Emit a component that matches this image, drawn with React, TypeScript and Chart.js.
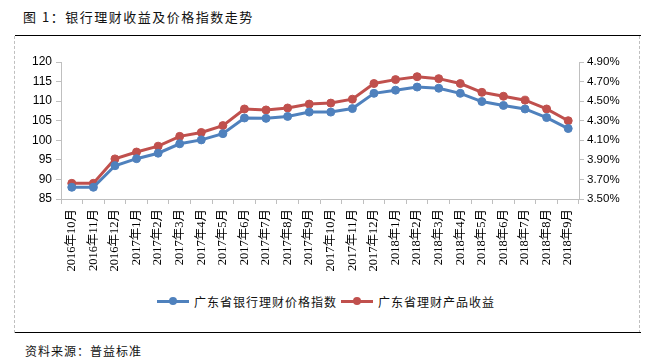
import React, { useEffect, useRef } from "react";
import { Chart, registerables } from "chart.js";
Chart.register(...registerables);

const categories = [
  "2016年10月", "2016年11月", "2016年12月",
  "2017年1月", "2017年2月", "2017年3月", "2017年4月", "2017年5月", "2017年6月",
  "2017年7月", "2017年8月", "2017年9月", "2017年10月", "2017年11月", "2017年12月",
  "2018年1月", "2018年2月", "2018年3月", "2018年4月", "2018年5月", "2018年6月",
  "2018年7月", "2018年8月", "2018年9月",
];

const priceIndex = [
  88.0, 88.0, 93.5, 95.3, 96.7, 99.1, 100.1, 101.7, 105.7, 105.6, 106.1, 107.2,
  107.2, 108.1, 112.0, 112.8, 113.6, 113.3, 112.0, 109.9, 108.9, 108.0, 105.8, 103.0,
];

const yieldPct = [
  3.66, 3.66, 3.91, 3.98, 4.04, 4.14, 4.18, 4.25, 4.42, 4.41, 4.43, 4.47,
  4.48, 4.52, 4.68, 4.72, 4.75, 4.73, 4.68, 4.59, 4.55, 4.51, 4.42, 4.30,
];

const seriesNames = ["广东省银行理财价格指数", "广东省理财产品收益"];
const seriesColors = ["#4F81BD", "#C0504D"];
const titleText = "图 1：银行理财收益及价格指数走势";
const sourceText = "资料来源：普益标准";

const CANVAS_W = 626;
const CANVAS_H = 240;

export default function App() {
  const ref = useRef<HTMLCanvasElement | null>(null);

  useEffect(() => {
    if (!ref.current) return;
    const axisColor = "#BFBFBF";
    const chart = new Chart(ref.current, {
      type: "line",
      data: {
        labels: categories,
        datasets: [
          {
            label: seriesNames[0],
            data: priceIndex,
            yAxisID: "y",
            borderColor: seriesColors[0],
            backgroundColor: seriesColors[0],
            pointBackgroundColor: seriesColors[0],
            pointBorderColor: seriesColors[0],
            borderWidth: 3,
            pointRadius: 4,
            pointBorderWidth: 1,
            tension: 0,
          },
          {
            label: seriesNames[1],
            data: yieldPct,
            yAxisID: "y1",
            borderColor: seriesColors[1],
            backgroundColor: seriesColors[1],
            pointBackgroundColor: seriesColors[1],
            pointBorderColor: seriesColors[1],
            borderWidth: 3,
            pointRadius: 4,
            pointBorderWidth: 1,
            tension: 0,
          },
        ],
      },
      options: {
        responsive: false,
        animation: false,
        layout: { padding: { top: 22, left: 0, right: 0, bottom: 0 } },
        plugins: {
          legend: { display: false },
          tooltip: { enabled: false },
        },
        scales: {
          x: {
            offset: true,
            grid: {
              offset: true,
              drawOnChartArea: false,
              drawTicks: true,
              tickLength: 5,
              color: axisColor,
            },
            border: { display: true, color: axisColor },
            ticks: {
              autoSkip: false,
              maxRotation: 90,
              minRotation: 90,
              padding: 5,
              color: "#000",
              font: { family: "'Liberation Serif', 'Noto Sans CJK SC'", size: 12.5 },
            },
            afterFit: (s: any) => {
              s.height = 81;
            },
          },
          y: {
            position: "left",
            min: 85,
            max: 120,
            grid: {
              drawOnChartArea: false,
              drawTicks: true,
              tickLength: 5,
              color: axisColor,
            },
            border: { display: true, color: axisColor },
            ticks: {
              stepSize: 5,
              padding: 4,
              color: "#000",
              font: { family: "'Liberation Sans', Arial", size: 12 },
            },
            afterFit: (s: any) => {
              s.width = 46;
            },
          },
          y1: {
            position: "right",
            min: 3.5,
            max: 4.9,
            grid: {
              drawOnChartArea: false,
              drawTicks: true,
              tickLength: 5,
              color: axisColor,
            },
            border: { display: true, color: axisColor },
            ticks: {
              stepSize: 0.2,
              padding: 3,
              color: "#000",
              font: { family: "'Liberation Sans', Arial", size: 11.5 },
              callback: (v: any) => Number(v).toFixed(2) + "%",
            },
            afterFit: (s: any) => {
              s.width = 62;
            },
          },
        },
      },
    });
    return () => chart.destroy();
  }, []);

  const cjk = "'Noto Sans CJK SC', sans-serif";

  return (
    <div
      style={{
        position: "fixed",
        left: 0,
        top: 0,
        width: 653,
        height: 364,
        background: "#fff",
        overflow: "hidden",
      }}
    >
      <div
        style={{
          position: "absolute",
          left: 23,
          top: 7,
          fontFamily: cjk,
          fontSize: 13,
          letterSpacing: 1.5,
          color: "#111",
          lineHeight: "20px",
          whiteSpace: "nowrap",
        }}
      >
        {titleText}
      </div>
      <div style={{ position: "absolute", left: 15, top: 35, width: 626, height: 1, background: "#000" }} />
      <div
        style={{
          position: "absolute",
          left: 14,
          top: 36,
          width: 0,
          height: 297,
          borderLeft: "1px dashed #BFBFBF",
        }}
      />
      <div
        style={{
          position: "absolute",
          left: 639,
          top: 36,
          width: 0,
          height: 297,
          borderLeft: "1px dashed #BFBFBF",
        }}
      />
      <canvas
        ref={ref}
        width={CANVAS_W}
        height={CANVAS_H}
        style={{ position: "absolute", left: 15, top: 40, width: CANVAS_W, height: CANVAS_H }}
      />
      {/* Legend */}
      <div
        style={{
          position: "absolute",
          left: 157,
          top: 291,
          height: 20,
          display: "flex",
          alignItems: "center",
          fontFamily: cjk,
          fontSize: 12,
          letterSpacing: 1,
          color: "#111",
          whiteSpace: "nowrap",
        }}
      >
        {seriesNames.map((name, i) => (
          <div key={name} style={{ display: "flex", alignItems: "center", marginRight: i === 0 ? 4 : 0 }}>
            <div style={{ position: "relative", width: 32, height: 8, marginRight: 5 }}>
              <div
                style={{
                  position: "absolute",
                  left: 0,
                  top: 2.5,
                  width: 32,
                  height: 3,
                  background: seriesColors[i],
                }}
              />
              <div
                style={{
                  position: "absolute",
                  left: 12,
                  top: 0,
                  width: 8,
                  height: 8,
                  borderRadius: 4,
                  background: seriesColors[i],
                }}
              />
            </div>
            <span>{name}</span>
          </div>
        ))}
      </div>
      <div style={{ position: "absolute", left: 15, top: 332, width: 626, height: 1, background: "#000" }} />
      <div
        style={{
          position: "absolute",
          left: 25,
          top: 341,
          fontFamily: cjk,
          fontSize: 12,
          letterSpacing: 1,
          color: "#111",
          lineHeight: "20px",
          whiteSpace: "nowrap",
        }}
      >
        {sourceText}
      </div>
    </div>
  );
}
